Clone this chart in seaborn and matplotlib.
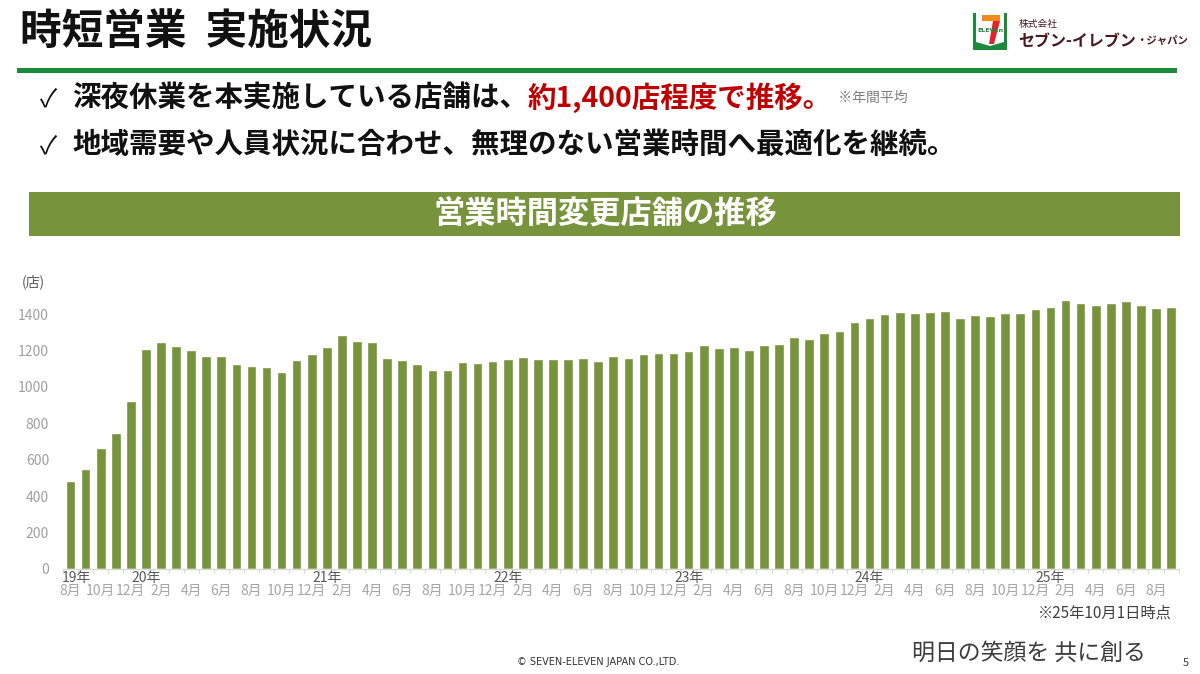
import pandas as pd
import seaborn as sns
from matplotlib import pyplot as plt
from matplotlib.patches import Rectangle, Polygon

# monthly count of stores with changed opening hours, 2019-08 .. 2025-09
months = pd.period_range('2019-08', '2025-09', freq='M')
stores_2019 = [485, 548, 663, 750, 924]
stores_2020 = [1208, 1246, 1228, 1206, 1173, 1169, 1129, 1114, 1110, 1083, 1149, 1184]
stores_2021 = [1220, 1288, 1253, 1246, 1158, 1147, 1125, 1094, 1092, 1138, 1132, 1142]
stores_2022 = [1154, 1164, 1156, 1156, 1153, 1160, 1143, 1173, 1162, 1180, 1189, 1186]
stores_2023 = [1197, 1233, 1217, 1219, 1206, 1230, 1239, 1272, 1261, 1296, 1310, 1358]
stores_2024 = [1378, 1400, 1411, 1406, 1413, 1417, 1380, 1393, 1389, 1406, 1407, 1428]
stores_2025 = [1442, 1477, 1462, 1451, 1461, 1470, 1453, 1433, 1440]
stores = stores_2019 + stores_2020 + stores_2021 + stores_2022 + stores_2023 + stores_2024 + stores_2025
yticks = [0, 200, 400, 600, 800, 1000, 1200, 1400]

BAR = '#77933C'
W, H = 1200, 674

sns.set_theme(style='white')
plt.rcParams['font.family'] = ['Noto Sans CJK JP', 'DejaVu Sans']

df = pd.DataFrame({'month': [str(m) for m in months], 'stores': stores})


def px(x, y):
    return x / W, 1 - y / H


fig = plt.figure(figsize=(12, 6.74), dpi=100)
ax = fig.add_axes([63 / W, (H - 569) / H, (1178.6 - 63) / W, 291.2 / H])

sns.barplot(data=df, x='month', y='stores', color=BAR, saturation=1, width=0.64, ax=ax)

ax.set_xlim(-0.5, len(months) - 0.5)
ax.set_ylim(0, 1600)
ax.set_yticks(yticks)
ax.set_xlabel('')
ax.set_ylabel('')
for s in ['top', 'right', 'left']:
    ax.spines[s].set_visible(False)
ax.spines['bottom'].set_color('#d9d9d9')
ax.spines['bottom'].set_linewidth(1)
ax.tick_params(axis='y', length=0, labelsize=10, labelcolor='#a0a0a0', pad=10)

# month labels every other month, year labels at january
pos = [i for i, m in enumerate(months) if m.month % 2 == 0]
ax.set_xticks(pos, [f'{months[i].month}月' for i in pos])
ax.set_xticks([i + 0.5 for i in range(-1, len(months))], minor=True)
ax.tick_params(axis='x', which='major', length=0, labelsize=10, labelcolor='#a6a6a6', pad=11)
ax.tick_params(axis='x', which='minor', length=3, width=0.8, color='#d9d9d9', bottom=True)
for i, m in enumerate(months):
    if i == 0 or m.month == 1:
        ax.text(i + (0.4 if i == 0 else 0), -0.031, f'{m.year % 100}年', transform=ax.get_xaxis_transform(),
                ha='center', va='center', fontsize=10, color='#595959')

fig.text(*px(22, 282), '(店)', fontsize=10, color='#595959', va='center')

# header
fig.text(*px(20, 32), '時短営業  実施状況', fontsize=30, weight='bold', va='center', color='#111111')
fig.patches.append(Rectangle(px(17, 73), 1160 / W, 5 / H, transform=fig.transFigure,
                             color='#1b8a3a', lw=0))

renderer = fig.canvas.get_renderer()


def chain(x, y, parts):
    for text, kw in parts:
        t = fig.text(*px(x, y), text, va='center', **kw)
        bb = t.get_window_extent(renderer)
        x = bb.x1


fig.text(*px(40, 99), '✓', fontsize=18, color='#111111', va='center')
fig.text(*px(40, 146), '✓', fontsize=18, color='#111111', va='center')
chain(72, 98, [('深夜休業を本実施している店舗は、', dict(fontsize=20.5, weight='bold', color='#111111')),
               ('約1,400店程度で推移。', dict(fontsize=20.5, weight='bold', color='#c00000')),
               ('  ※年間平均', dict(fontsize=10, color='#7f7f7f'))])
chain(72, 145, [('地域需要や人員状況に合わせ、無理のない営業時間へ最適化を継続。',
                 dict(fontsize=20.5, weight='bold', color='#111111'))])

# logo
lg = fig.add_axes([973 / W, 1 - 50 / H, 34 / W, 37 / H])
lg.set_xlim(0, 34)
lg.set_ylim(0, 37)
lg.axis('off')
lg.add_patch(Rectangle((0, 0), 34, 37, color='#1b8a3a', lw=0))
lg.add_patch(Polygon([(3, 37), (31, 37), (31, 8), (17, 4), (3, 8)], color='white', lw=0))
lg.add_patch(Rectangle((9, 29), 18, 6, color='#f08a1c', lw=0))
lg.add_patch(Polygon([(20, 29), (27, 29), (21, 6), (16, 6)], color='#e3222b', lw=0))
lg.text(17, 19, 'ELEVEn', fontsize=4.5, weight='bold', color='#1b8a3a', ha='center', va='center',
        family='DejaVu Sans')
fig.text(*px(1019, 24), '株式会社', fontsize=7, color='#4a1a1e', va='center')
chain(1018, 41, [('セブン-イレブン', dict(fontsize=11.5, weight='bold', style='italic', color='#4a1a1e')),
                 ('・ジャパン', dict(fontsize=7.5, weight='bold', color='#4a1a1e'))])

# banner
fig.patches.append(Rectangle(px(29, 236), (1180 - 29) / W, 44 / H, transform=fig.transFigure,
                             color=BAR, lw=0))
fig.text(*px(605, 214), '営業時間変更店舗の推移', fontsize=22.5, weight='bold', color='white',
         ha='center', va='center')

# footer
fig.text(*px(1172, 613), '※25年10月1日時点', fontsize=11, color='#404040', ha='right', va='center')
fig.text(*px(912, 653), '明日の笑顔を 共に創る', fontsize=16.5, color='#3c3c3c', va='center')
fig.text(*px(1183, 663), '5', fontsize=8, color='#404040', va='center')
fig.text(*px(598, 662), '© SEVEN-ELEVEN JAPAN CO.,LTD.', fontsize=7, color='#333333',
         ha='center', va='center', family=['Liberation Sans Narrow', 'DejaVu Sans'])

fig.savefig('out.png', dpi=100)
